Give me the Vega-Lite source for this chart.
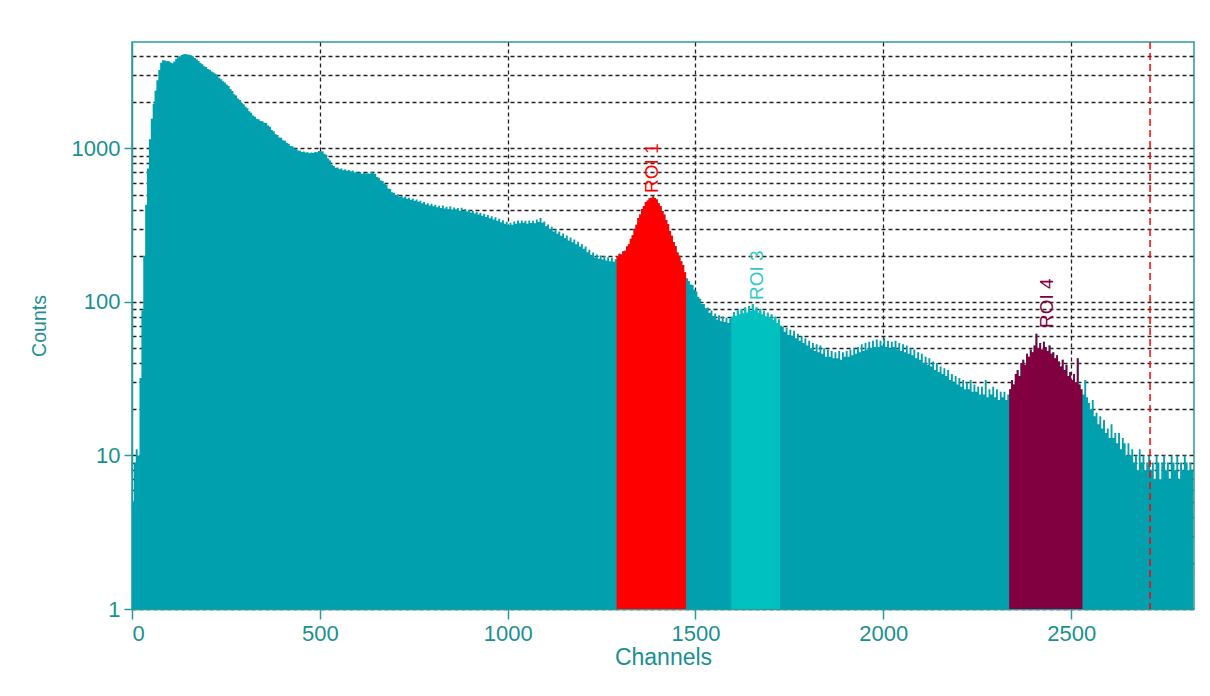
{
"$schema":"https://vega.github.io/schema/vega-lite/v6.json",
"width":1062,"height":567,
"autosize":"none",
"padding":{"left":132,"top":42,"right":16,"bottom":87},
"background":"white",
"config":{"view":{"stroke":"#2a9a9a","strokeWidth":1.5},"font":"Liberation Sans"},
"datasets":{
"spectrum":[
{"ch":0,"counts":5},{"ch":5,"counts":9},{"ch":10,"counts":11},{"ch":15,"counts":10},{"ch":20,"counts":32},{"ch":25,"counts":88},{"ch":30,"counts":200},{"ch":35,"counts":430},{"ch":40,"counts":740},{"ch":45,"counts":1150},
{"ch":50,"counts":1560},{"ch":55,"counts":1960},{"ch":60,"counts":2380},{"ch":65,"counts":2780},{"ch":70,"counts":3250},{"ch":75,"counts":3620},{"ch":80,"counts":3760},{"ch":85,"counts":3740},{"ch":90,"counts":3700},{"ch":95,"counts":3710},
{"ch":100,"counts":3640},{"ch":105,"counts":3590},{"ch":110,"counts":3690},{"ch":115,"counts":3840},{"ch":120,"counts":3930},{"ch":125,"counts":3990},{"ch":130,"counts":4060},{"ch":135,"counts":4110},{"ch":140,"counts":4120},{"ch":145,"counts":4090},
{"ch":150,"counts":4080},{"ch":155,"counts":4040},{"ch":160,"counts":3970},{"ch":165,"counts":3890},{"ch":170,"counts":3810},{"ch":175,"counts":3720},{"ch":180,"counts":3610},{"ch":185,"counts":3540},{"ch":190,"counts":3440},{"ch":195,"counts":3390},
{"ch":200,"counts":3290},{"ch":205,"counts":3260},{"ch":210,"counts":3170},{"ch":215,"counts":3130},{"ch":220,"counts":3070},{"ch":225,"counts":2990},{"ch":230,"counts":2890},{"ch":235,"counts":2830},{"ch":240,"counts":2740},{"ch":245,"counts":2690},
{"ch":250,"counts":2610},{"ch":255,"counts":2550},{"ch":260,"counts":2440},{"ch":265,"counts":2370},{"ch":270,"counts":2260},{"ch":275,"counts":2210},{"ch":280,"counts":2120},{"ch":285,"counts":2070},{"ch":290,"counts":1980},{"ch":295,"counts":1940},
{"ch":300,"counts":1870},{"ch":305,"counts":1830},{"ch":310,"counts":1750},{"ch":315,"counts":1710},{"ch":320,"counts":1640},{"ch":325,"counts":1610},{"ch":330,"counts":1560},{"ch":335,"counts":1550},{"ch":340,"counts":1510},{"ch":345,"counts":1505},
{"ch":350,"counts":1470},{"ch":355,"counts":1465},{"ch":360,"counts":1410},{"ch":365,"counts":1385},{"ch":370,"counts":1320},{"ch":375,"counts":1295},{"ch":380,"counts":1240},{"ch":385,"counts":1225},{"ch":390,"counts":1180},{"ch":395,"counts":1175},
{"ch":400,"counts":1130},{"ch":405,"counts":1125},{"ch":410,"counts":1090},{"ch":415,"counts":1075},{"ch":420,"counts":1040},{"ch":425,"counts":1035},{"ch":430,"counts":1000},{"ch":435,"counts":995},{"ch":440,"counts":970},{"ch":445,"counts":968},
{"ch":450,"counts":950},{"ch":455,"counts":955},{"ch":460,"counts":940},{"ch":465,"counts":945},{"ch":470,"counts":932},{"ch":475,"counts":940},{"ch":480,"counts":935},{"ch":485,"counts":950},{"ch":490,"counts":945},{"ch":495,"counts":962},
{"ch":500,"counts":958},{"ch":505,"counts":960},{"ch":510,"counts":925},{"ch":515,"counts":910},{"ch":520,"counts":862},{"ch":525,"counts":835},{"ch":530,"counts":785},{"ch":535,"counts":770},{"ch":540,"counts":748},{"ch":545,"counts":752},
{"ch":550,"counts":733},{"ch":555,"counts":740},{"ch":560,"counts":722},{"ch":565,"counts":733},{"ch":570,"counts":715},{"ch":575,"counts":723},{"ch":580,"counts":708},{"ch":585,"counts":718},{"ch":590,"counts":698},{"ch":595,"counts":705},
{"ch":600,"counts":695},{"ch":605,"counts":700},{"ch":610,"counts":684},{"ch":615,"counts":693},{"ch":620,"counts":686},{"ch":625,"counts":690},{"ch":630,"counts":684},{"ch":635,"counts":705},{"ch":640,"counts":690},{"ch":645,"counts":684},
{"ch":650,"counts":652},{"ch":655,"counts":645},{"ch":660,"counts":618},{"ch":665,"counts":614},{"ch":670,"counts":588},{"ch":675,"counts":580},{"ch":680,"counts":548},{"ch":685,"counts":545},{"ch":690,"counts":518},{"ch":695,"counts":515},
{"ch":700,"counts":498},{"ch":705,"counts":503},{"ch":710,"counts":485},{"ch":715,"counts":493},{"ch":720,"counts":478},{"ch":725,"counts":486},{"ch":730,"counts":470},{"ch":735,"counts":478},{"ch":740,"counts":463},{"ch":745,"counts":472},
{"ch":750,"counts":457},{"ch":755,"counts":466},{"ch":760,"counts":449},{"ch":765,"counts":456},{"ch":770,"counts":439},{"ch":775,"counts":448},{"ch":780,"counts":432},{"ch":785,"counts":440},{"ch":790,"counts":426},{"ch":795,"counts":437},
{"ch":800,"counts":420},{"ch":805,"counts":430},{"ch":810,"counts":414},{"ch":815,"counts":424},{"ch":820,"counts":410},{"ch":825,"counts":426},{"ch":830,"counts":407},{"ch":835,"counts":418},{"ch":840,"counts":402},{"ch":845,"counts":420},
{"ch":850,"counts":401},{"ch":855,"counts":412},{"ch":860,"counts":400},{"ch":865,"counts":410},{"ch":870,"counts":393},{"ch":875,"counts":411},{"ch":880,"counts":392},{"ch":885,"counts":403},{"ch":890,"counts":388},{"ch":895,"counts":398},
{"ch":900,"counts":383},{"ch":905,"counts":392},{"ch":910,"counts":377},{"ch":915,"counts":386},{"ch":920,"counts":371},{"ch":925,"counts":382},{"ch":930,"counts":365},{"ch":935,"counts":376},{"ch":940,"counts":358},{"ch":945,"counts":369},
{"ch":950,"counts":351},{"ch":955,"counts":362},{"ch":960,"counts":345},{"ch":965,"counts":356},{"ch":970,"counts":338},{"ch":975,"counts":349},{"ch":980,"counts":331},{"ch":985,"counts":341},{"ch":990,"counts":323},{"ch":995,"counts":333},
{"ch":1000,"counts":315},{"ch":1005,"counts":328},{"ch":1010,"counts":318},{"ch":1015,"counts":334},{"ch":1020,"counts":323},{"ch":1025,"counts":339},{"ch":1030,"counts":326},{"ch":1035,"counts":340},{"ch":1040,"counts":328},{"ch":1045,"counts":338},
{"ch":1050,"counts":323},{"ch":1055,"counts":340},{"ch":1060,"counts":327},{"ch":1065,"counts":338},{"ch":1070,"counts":326},{"ch":1075,"counts":345},{"ch":1080,"counts":332},{"ch":1085,"counts":352},{"ch":1090,"counts":328},{"ch":1095,"counts":334},
{"ch":1100,"counts":312},{"ch":1105,"counts":320},{"ch":1110,"counts":300},{"ch":1115,"counts":309},{"ch":1120,"counts":288},{"ch":1125,"counts":297},{"ch":1130,"counts":278},{"ch":1135,"counts":288},{"ch":1140,"counts":270},{"ch":1145,"counts":279},
{"ch":1150,"counts":261},{"ch":1155,"counts":271},{"ch":1160,"counts":252},{"ch":1165,"counts":263},{"ch":1170,"counts":245},{"ch":1175,"counts":255},{"ch":1180,"counts":238},{"ch":1185,"counts":247},{"ch":1190,"counts":230},{"ch":1195,"counts":239},
{"ch":1200,"counts":222},{"ch":1205,"counts":230},{"ch":1210,"counts":211},{"ch":1215,"counts":219},{"ch":1220,"counts":202},{"ch":1225,"counts":210},{"ch":1230,"counts":195},{"ch":1235,"counts":204},{"ch":1240,"counts":191},{"ch":1245,"counts":201},
{"ch":1250,"counts":189},{"ch":1255,"counts":199},{"ch":1260,"counts":186},{"ch":1265,"counts":196},{"ch":1270,"counts":184},{"ch":1275,"counts":194},{"ch":1280,"counts":183},{"ch":1285,"counts":190},
{"ch":1290,"counts":198,"roi":"ROI 1"},{"ch":1295,"counts":206,"roi":"ROI 1"},{"ch":1300,"counts":204,"roi":"ROI 1"},{"ch":1305,"counts":214,"roi":"ROI 1"},{"ch":1310,"counts":216,"roi":"ROI 1"},{"ch":1315,"counts":230,"roi":"ROI 1"},{"ch":1320,"counts":238,"roi":"ROI 1"},{"ch":1325,"counts":258,"roi":"ROI 1"},{"ch":1330,"counts":272,"roi":"ROI 1"},{"ch":1335,"counts":300,"roi":"ROI 1"},
{"ch":1340,"counts":318,"roi":"ROI 1"},{"ch":1345,"counts":352,"roi":"ROI 1"},{"ch":1350,"counts":372,"roi":"ROI 1"},{"ch":1355,"counts":404,"roi":"ROI 1"},{"ch":1360,"counts":422,"roi":"ROI 1"},{"ch":1365,"counts":448,"roi":"ROI 1"},{"ch":1370,"counts":458,"roi":"ROI 1"},{"ch":1375,"counts":474,"roi":"ROI 1"},{"ch":1380,"counts":478,"roi":"ROI 1"},{"ch":1385,"counts":488,"roi":"ROI 1"},
{"ch":1390,"counts":476,"roi":"ROI 1"},{"ch":1395,"counts":465,"roi":"ROI 1"},{"ch":1400,"counts":440,"roi":"ROI 1"},{"ch":1405,"counts":422,"roi":"ROI 1"},{"ch":1410,"counts":392,"roi":"ROI 1"},{"ch":1415,"counts":372,"roi":"ROI 1"},{"ch":1420,"counts":342,"roi":"ROI 1"},{"ch":1425,"counts":322,"roi":"ROI 1"},{"ch":1430,"counts":290,"roi":"ROI 1"},{"ch":1435,"counts":270,"roi":"ROI 1"},
{"ch":1440,"counts":246,"roi":"ROI 1"},{"ch":1445,"counts":232,"roi":"ROI 1"},{"ch":1450,"counts":210,"roi":"ROI 1"},{"ch":1455,"counts":200,"roi":"ROI 1"},{"ch":1460,"counts":184,"roi":"ROI 1"},{"ch":1465,"counts":174,"roi":"ROI 1"},{"ch":1470,"counts":156,"roi":"ROI 1"},{"ch":1475,"counts":143,"roi":"ROI 1"},
{"ch":1480,"counts":137},{"ch":1485,"counts":130},{"ch":1490,"counts":129},{"ch":1495,"counts":120},{"ch":1500,"counts":117},{"ch":1505,"counts":108},{"ch":1510,"counts":105},{"ch":1515,"counts":97},{"ch":1520,"counts":97},{"ch":1525,"counts":91},
{"ch":1530,"counts":92},{"ch":1535,"counts":85},{"ch":1540,"counts":88},{"ch":1545,"counts":81},{"ch":1550,"counts":84},{"ch":1555,"counts":77},{"ch":1560,"counts":82},{"ch":1565,"counts":75},{"ch":1570,"counts":80},{"ch":1575,"counts":74},
{"ch":1580,"counts":79},{"ch":1585,"counts":73},{"ch":1590,"counts":78},
{"ch":1595,"counts":80,"roi":"ROI 3"},{"ch":1600,"counts":86,"roi":"ROI 3"},{"ch":1605,"counts":81,"roi":"ROI 3"},{"ch":1610,"counts":88,"roi":"ROI 3"},{"ch":1615,"counts":83,"roi":"ROI 3"},{"ch":1620,"counts":90,"roi":"ROI 3"},{"ch":1625,"counts":84,"roi":"ROI 3"},{"ch":1630,"counts":92,"roi":"ROI 3"},{"ch":1635,"counts":85,"roi":"ROI 3"},{"ch":1640,"counts":94,"roi":"ROI 3"},
{"ch":1645,"counts":87,"roi":"ROI 3"},{"ch":1650,"counts":97,"roi":"ROI 3"},{"ch":1655,"counts":88,"roi":"ROI 3"},{"ch":1660,"counts":92,"roi":"ROI 3"},{"ch":1665,"counts":85,"roi":"ROI 3"},{"ch":1670,"counts":90,"roi":"ROI 3"},{"ch":1675,"counts":83,"roi":"ROI 3"},{"ch":1680,"counts":87,"roi":"ROI 3"},{"ch":1685,"counts":80,"roi":"ROI 3"},{"ch":1690,"counts":85,"roi":"ROI 3"},
{"ch":1695,"counts":78,"roi":"ROI 3"},{"ch":1700,"counts":83,"roi":"ROI 3"},{"ch":1705,"counts":76,"roi":"ROI 3"},{"ch":1710,"counts":80,"roi":"ROI 3"},{"ch":1715,"counts":73,"roi":"ROI 3"},{"ch":1720,"counts":77,"roi":"ROI 3"},{"ch":1725,"counts":70,"roi":"ROI 3"},
{"ch":1730,"counts":69},{"ch":1735,"counts":64},{"ch":1740,"counts":68},{"ch":1745,"counts":61},{"ch":1750,"counts":66},{"ch":1755,"counts":60},{"ch":1760,"counts":65},{"ch":1765,"counts":58},{"ch":1770,"counts":62},{"ch":1775,"counts":56},
{"ch":1780,"counts":60},{"ch":1785,"counts":54},{"ch":1790,"counts":58},{"ch":1795,"counts":52},{"ch":1800,"counts":56},{"ch":1805,"counts":50},{"ch":1810,"counts":54},{"ch":1815,"counts":48},{"ch":1820,"counts":53},{"ch":1825,"counts":47},
{"ch":1830,"counts":52},{"ch":1835,"counts":46},{"ch":1840,"counts":50},{"ch":1845,"counts":44},{"ch":1850,"counts":49},{"ch":1855,"counts":44},{"ch":1860,"counts":48},{"ch":1865,"counts":43},{"ch":1870,"counts":47},{"ch":1875,"counts":43},
{"ch":1880,"counts":48},{"ch":1885,"counts":42},{"ch":1890,"counts":47},{"ch":1895,"counts":44},{"ch":1900,"counts":48},{"ch":1905,"counts":44},{"ch":1910,"counts":49},{"ch":1915,"counts":45},{"ch":1920,"counts":50},{"ch":1925,"counts":46},
{"ch":1930,"counts":51},{"ch":1935,"counts":47},{"ch":1940,"counts":53},{"ch":1945,"counts":48},{"ch":1950,"counts":54},{"ch":1955,"counts":49},{"ch":1960,"counts":55},{"ch":1965,"counts":50},{"ch":1970,"counts":56},{"ch":1975,"counts":51},
{"ch":1980,"counts":57},{"ch":1985,"counts":51},{"ch":1990,"counts":56},{"ch":1995,"counts":52},{"ch":2000,"counts":58},{"ch":2005,"counts":51},{"ch":2010,"counts":56},{"ch":2015,"counts":50},{"ch":2020,"counts":55},{"ch":2025,"counts":51},
{"ch":2030,"counts":56},{"ch":2035,"counts":49},{"ch":2040,"counts":54},{"ch":2045,"counts":48},{"ch":2050,"counts":53},{"ch":2055,"counts":47},{"ch":2060,"counts":52},{"ch":2065,"counts":46},{"ch":2070,"counts":50},{"ch":2075,"counts":45},
{"ch":2080,"counts":49},{"ch":2085,"counts":43},{"ch":2090,"counts":47},{"ch":2095,"counts":42},{"ch":2100,"counts":46},{"ch":2105,"counts":40},{"ch":2110,"counts":44},{"ch":2115,"counts":39},{"ch":2120,"counts":43},{"ch":2125,"counts":38},
{"ch":2130,"counts":41},{"ch":2135,"counts":36},{"ch":2140,"counts":40},{"ch":2145,"counts":35},{"ch":2150,"counts":38},{"ch":2155,"counts":34},{"ch":2160,"counts":37},{"ch":2165,"counts":33},{"ch":2170,"counts":36},{"ch":2175,"counts":31},
{"ch":2180,"counts":34},{"ch":2185,"counts":30},{"ch":2190,"counts":33},{"ch":2195,"counts":29},{"ch":2200,"counts":32},{"ch":2205,"counts":28},{"ch":2210,"counts":31},{"ch":2215,"counts":27},{"ch":2220,"counts":30},{"ch":2225,"counts":27},
{"ch":2230,"counts":31},{"ch":2235,"counts":26},{"ch":2240,"counts":29},{"ch":2245,"counts":26},{"ch":2250,"counts":28},{"ch":2255,"counts":25},{"ch":2260,"counts":28},{"ch":2265,"counts":25},{"ch":2270,"counts":31},{"ch":2275,"counts":24},
{"ch":2280,"counts":27},{"ch":2285,"counts":25},{"ch":2290,"counts":28},{"ch":2295,"counts":24},{"ch":2300,"counts":27},{"ch":2305,"counts":23},{"ch":2310,"counts":26},{"ch":2315,"counts":24},{"ch":2320,"counts":26},{"ch":2325,"counts":23},
{"ch":2330,"counts":25},
{"ch":2335,"counts":27,"roi":"ROI 4"},{"ch":2340,"counts":31,"roi":"ROI 4"},{"ch":2345,"counts":29,"roi":"ROI 4"},{"ch":2350,"counts":34,"roi":"ROI 4"},{"ch":2355,"counts":36,"roi":"ROI 4"},{"ch":2360,"counts":33,"roi":"ROI 4"},{"ch":2365,"counts":40,"roi":"ROI 4"},{"ch":2370,"counts":42,"roi":"ROI 4"},{"ch":2375,"counts":39,"roi":"ROI 4"},{"ch":2380,"counts":46,"roi":"ROI 4"},
{"ch":2385,"counts":44,"roi":"ROI 4"},{"ch":2390,"counts":49,"roi":"ROI 4"},{"ch":2395,"counts":47,"roi":"ROI 4"},{"ch":2400,"counts":52,"roi":"ROI 4"},{"ch":2405,"counts":62,"roi":"ROI 4"},{"ch":2410,"counts":50,"roi":"ROI 4"},{"ch":2415,"counts":54,"roi":"ROI 4"},{"ch":2420,"counts":49,"roi":"ROI 4"},{"ch":2425,"counts":55,"roi":"ROI 4"},{"ch":2430,"counts":51,"roi":"ROI 4"},
{"ch":2435,"counts":48,"roi":"ROI 4"},{"ch":2440,"counts":52,"roi":"ROI 4"},{"ch":2445,"counts":46,"roi":"ROI 4"},{"ch":2450,"counts":47,"roi":"ROI 4"},{"ch":2455,"counts":43,"roi":"ROI 4"},{"ch":2460,"counts":45,"roi":"ROI 4"},{"ch":2465,"counts":41,"roi":"ROI 4"},{"ch":2470,"counts":38,"roi":"ROI 4"},{"ch":2475,"counts":42,"roi":"ROI 4"},{"ch":2480,"counts":36,"roi":"ROI 4"},
{"ch":2485,"counts":39,"roi":"ROI 4"},{"ch":2490,"counts":33,"roi":"ROI 4"},{"ch":2495,"counts":35,"roi":"ROI 4"},{"ch":2500,"counts":31,"roi":"ROI 4"},{"ch":2505,"counts":34,"roi":"ROI 4"},{"ch":2510,"counts":30,"roi":"ROI 4"},{"ch":2515,"counts":43,"roi":"ROI 4"},{"ch":2520,"counts":29,"roi":"ROI 4"},{"ch":2525,"counts":27,"roi":"ROI 4"},{"ch":2530,"counts":25,"roi":"ROI 4"},
{"ch":2535,"counts":31},{"ch":2540,"counts":24},{"ch":2545,"counts":22},{"ch":2550,"counts":20},{"ch":2555,"counts":23},{"ch":2560,"counts":18},{"ch":2565,"counts":19},{"ch":2570,"counts":16},{"ch":2575,"counts":18},{"ch":2580,"counts":15},
{"ch":2585,"counts":17},{"ch":2590,"counts":14},{"ch":2595,"counts":15},{"ch":2600,"counts":13},{"ch":2605,"counts":16},{"ch":2610,"counts":13},{"ch":2615,"counts":14},{"ch":2620,"counts":12},{"ch":2625,"counts":14},{"ch":2630,"counts":11},
{"ch":2635,"counts":13},{"ch":2640,"counts":12},{"ch":2645,"counts":10},{"ch":2650,"counts":12},{"ch":2655,"counts":10},{"ch":2660,"counts":11},{"ch":2665,"counts":9},{"ch":2670,"counts":10},{"ch":2675,"counts":8},{"ch":2680,"counts":11},
{"ch":2685,"counts":9},{"ch":2690,"counts":10},{"ch":2695,"counts":8},{"ch":2700,"counts":9},{"ch":2705,"counts":10},{"ch":2710,"counts":8},{"ch":2715,"counts":9},{"ch":2720,"counts":7},{"ch":2725,"counts":10},{"ch":2730,"counts":9},
{"ch":2735,"counts":7},{"ch":2740,"counts":9},{"ch":2745,"counts":10},{"ch":2750,"counts":8},{"ch":2755,"counts":9},{"ch":2760,"counts":7},{"ch":2765,"counts":10},{"ch":2770,"counts":9},{"ch":2775,"counts":8},{"ch":2780,"counts":10},
{"ch":2785,"counts":7},{"ch":2790,"counts":9},{"ch":2795,"counts":8},{"ch":2800,"counts":10},{"ch":2805,"counts":9},{"ch":2810,"counts":8},{"ch":2815,"counts":9},{"ch":2820,"counts":8},{"ch":2825,"counts":9}
],
"labels":[
{"label":"ROI 1","ch":1384,"counts":513},
{"label":"ROI 3","ch":1663,"counts":103},
{"label":"ROI 4","ch":2435,"counts":67.7}
],
"marker":[{"ch":2710}]
},
"layer":[
{
"data":{"name":"spectrum"},
"mark":{"type":"area","interpolate":"step-after","color":"#00A0AF","clip":true},
"encoding":{
"x":{"field":"ch","type":"quantitative",
"scale":{"domain":[0,2827],"nice":false,"zero":false},
"axis":{"values":[0,500,1000,1500,2000,2500],"format":"d","title":"Channels",
"grid":true,"gridColor":"#222222","gridDash":[4,3],"gridWidth":1.3,
"gridOpacity":{"condition":{"test":"datum.value==0","value":0},"value":1},
"domainColor":"#2a9a9a","domainWidth":1.5,"tickColor":"#2a9a9a","tickSize":10,"tickWidth":1.5,
"labelColor":"#1a9090","labelFontSize":22,"labelPadding":4,"labelFont":"Liberation Sans","labelOverlap":false,
"titleColor":"#1a9090","titleFontSize":23,"titleFontWeight":"normal","titleFont":"Liberation Sans","titlePadding":2}},
"y":{"field":"counts","type":"quantitative",
"scale":{"type":"log","domain":[1,4940],"nice":false},
"axis":{"values":[1,2,3,4,5,6,7,8,9,10,20,30,40,50,60,70,80,90,100,200,300,400,500,600,700,800,900,1000,2000,3000,4000],
"labelExpr":"indexof([1,10,100,1000], datum.value) >= 0 ? format(datum.value,'d') : ''",
"labelOverlap":false,
"grid":true,"gridColor":"#222222","gridDash":[4,3],"gridWidth":1.3,
"tickOpacity":{"condition":{"test":"indexof([1,10,100,1000], datum.value) >= 0","value":1},"value":0},
"domainColor":"#2a9a9a","domainWidth":1.5,"tickColor":"#2a9a9a","tickSize":8,"tickWidth":1.5,
"labelColor":"#1a9090","labelFontSize":22,"labelPadding":4,"labelFont":"Liberation Sans",
"title":"Counts","titleColor":"#1a9090","titleFontSize":19.5,"titleFontWeight":"normal","titleFont":"Liberation Sans","titlePadding":22}},
"y2":{"datum":1}
}
},
{
"data":{"name":"spectrum"},
"transform":[{"filter":"datum.roi=='ROI 1'"}],
"mark":{"type":"area","interpolate":"step-after","color":"#FF0000"},
"encoding":{"x":{"field":"ch","type":"quantitative"},"y":{"field":"counts","type":"quantitative"},"y2":{"datum":1}}
},
{
"data":{"name":"spectrum"},
"transform":[{"filter":"datum.roi=='ROI 3'"}],
"mark":{"type":"area","interpolate":"step-after","color":"#00C0C0"},
"encoding":{"x":{"field":"ch","type":"quantitative"},"y":{"field":"counts","type":"quantitative"},"y2":{"datum":1}}
},
{
"data":{"name":"spectrum"},
"transform":[{"filter":"datum.roi=='ROI 4'"}],
"mark":{"type":"area","interpolate":"step-after","color":"#800040"},
"encoding":{"x":{"field":"ch","type":"quantitative"},"y":{"field":"counts","type":"quantitative"},"y2":{"datum":1}}
},
{
"data":{"name":"labels"},
"mark":{"type":"text","angle":270,"align":"left","baseline":"middle","fontSize":19,"font":"Liberation Sans"},
"encoding":{"x":{"field":"ch","type":"quantitative"},"y":{"field":"counts","type":"quantitative"},"text":{"field":"label"},
"color":{"field":"label","type":"nominal","scale":{"domain":["ROI 1","ROI 3","ROI 4"],"range":["#FF0000","#30C8C8","#800040"]},"legend":null}}
},
{
"data":{"name":"marker"},
"mark":{"type":"rule","color":"#FF0000","strokeDash":[7,4],"strokeWidth":1.5},
"encoding":{"x":{"field":"ch","type":"quantitative"}}
}
]
}
